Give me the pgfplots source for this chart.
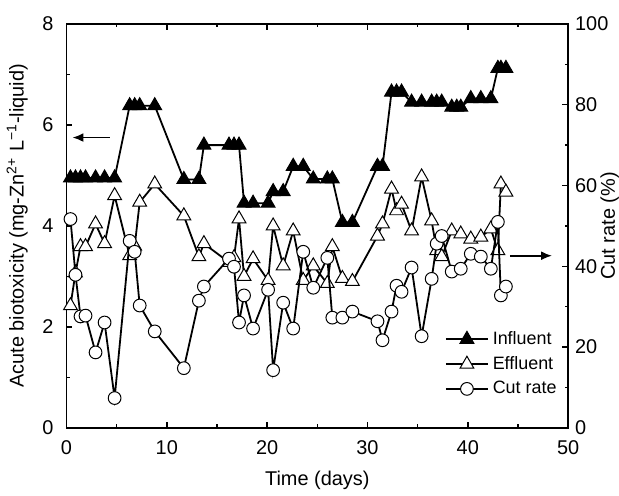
\documentclass[border=0pt]{standalone}
\usepackage{fontspec}
\setmainfont{Liberation Sans}
\usepackage{pgfplots}
\pgfplotsset{compat=1.18}
\usetikzlibrary{arrows.meta}

\pgfplotstableread{
x y
0.4 4.95
0.9 4.95
1.4 4.95
1.9 4.95
2.9 4.95
3.8 4.95
4.8 4.95
6.3 6.38
6.8 6.38
7.3 6.38
8.8 6.38
11.7 4.92
13.2 4.92
13.7 5.6
16.2 5.6
16.7 5.6
17.2 5.6
17.7 4.45
18.6 4.45
20.1 4.45
20.6 4.68
21.6 4.68
22.6 5.18
23.6 5.18
24.6 4.93
26.0 4.93
26.5 4.93
27.5 4.07
28.5 4.07
31.0 5.18
31.5 5.18
32.4 6.65
32.9 6.65
33.4 6.65
34.4 6.45
35.4 6.45
36.4 6.45
36.9 6.45
37.4 6.45
38.4 6.35
38.9 6.35
39.3 6.35
40.3 6.52
41.3 6.52
42.3 6.52
43.0 7.12
43.3 7.12
43.8 7.12
}\influent

\pgfplotstableread{
x y
0.4 2.42
0.9 3.07
1.4 3.59
1.9 3.59
2.9 4.04
3.8 3.65
4.8 4.60
6.3 3.41
6.8 3.60
7.3 4.47
8.8 4.83
11.7 4.20
13.2 3.39
13.7 3.65
16.2 3.28
16.7 3.37
17.2 4.14
17.7 3.00
18.6 3.35
20.1 2.92
20.6 4.00
21.6 3.21
22.6 3.90
23.6 2.92
24.6 3.21
26.0 2.86
26.5 3.59
27.5 2.96
28.5 2.90
31.0 3.80
31.5 4.04
32.4 4.73
32.9 4.30
33.4 4.43
34.4 3.90
35.4 4.97
36.4 4.10
36.9 3.51
37.4 3.39
38.4 3.90
39.3 3.84
40.3 3.74
41.3 3.78
42.3 3.94
43.0 3.51
43.3 4.83
43.8 4.67
}\effluent

\pgfplotstableread{
x y
0.4 51.7
0.9 37.9
1.4 27.6
1.9 27.8
2.9 18.7
3.8 26.1
4.8 7.4
6.3 46.3
6.8 43.6
7.3 30.3
8.8 23.9
11.7 14.8
13.2 31.5
13.7 35.0
16.2 41.9
16.7 39.9
17.2 26.1
17.7 32.8
18.6 24.6
20.1 34.2
20.6 14.3
21.6 31.0
22.6 24.6
23.6 43.6
24.6 34.7
26.0 42.1
26.5 27.3
27.5 27.3
28.5 28.8
31.0 26.4
31.5 21.7
32.4 28.8
32.9 35.2
33.4 33.7
34.4 39.7
35.4 22.7
36.4 36.9
36.9 45.6
37.4 47.5
38.4 38.7
39.3 39.4
40.3 43.1
41.3 42.4
42.3 39.4
43.0 51.0
43.3 32.8
43.8 35.0
}\cutrate

\begin{document}
\fontsize{10}{12}\selectfont
\begin{tikzpicture}
\pgfplotsset{
  every axis/.append style={
    width=252pt, height=203pt, scale only axis,
    xmin=0, xmax=50,
    tick align=inside,
    major tick length=3pt, minor tick length=1.8pt,
    /pgf/number format/assume math mode=true,
    tick label style={font=\fontsize{10}{12}\selectfont},
    label style={font=\fontsize{10}{12}\selectfont},
    axis line style={line width=0.75pt},
    every tick/.style={black, line width=0.75pt},
  },
  infl/.style={black, line width=0.9pt, mark=triangle*, mark size=4pt,
    mark options={solid, fill=black, line width=0.5pt}},
  effl/.style={black, line width=0.9pt, mark=triangle*, mark size=4pt,
    mark options={solid, fill=white, line width=0.5pt}},
  cutr/.style={black, line width=0.9pt, mark=*, mark size=3.2pt,
    mark options={solid, fill=white, line width=0.5pt}},
}
\begin{axis}[
  name=main,
  ymin=0, ymax=8,
  xtick={0,10,...,50}, minor xtick={5,15,...,45},
  ytick={0,2,...,8}, minor ytick={1,3,5,7},
  xtick pos=both, ytick pos=left,
  xticklabel style={yshift=-3pt},
  yticklabel style={xshift=-3pt},
  xlabel={Time (days)},
  ylabel={Acute biotoxicity (mg-Zn\textsuperscript{2+} L\textsuperscript{−1}-liquid)},
  xlabel style={yshift=-1pt},
  ylabel style={yshift=0.5pt},
]
\addplot[infl] table {\influent};
\addplot[effl] table {\effluent};
\draw[line width=0.9pt, -{Latex[length=5.5pt,width=4.5pt]}] (axis cs:4.3,5.75) -- (axis cs:0.6,5.75);
\draw[line width=0.9pt, -{Latex[length=5.5pt,width=4.5pt]}] (axis cs:44.2,3.41) -- (axis cs:48.4,3.41);
\end{axis}
\begin{axis}[
  ymin=0, ymax=100,
  hide x axis,
  axis y line*=right,
  ytick={0,20,...,100}, minor ytick={10,30,...,90},
  ylabel={Cut rate (\%)},
  ylabel style={yshift=7.5pt, inner sep=0pt},
  legend style={draw=none, fill=none, at={(0.75,0.255)}, anchor=north west,
    font=\fontsize{9}{11}\selectfont, row sep=0.5pt, inner sep=1pt},
  legend cell align=left,
  legend image code/.code={
    \draw[mark repeat=2,mark phase=2] plot coordinates {(0cm,0cm) (0.37cm,0cm) (0.74cm,0cm)};
  },
]
\addlegendimage{infl}
\addlegendentry{Influent}
\addlegendimage{effl}
\addlegendentry{Effluent}
\addplot[cutr] table {\cutrate};
\addlegendentry{Cut rate}
\end{axis}
\path ([yshift=12pt]main.north);
\end{tikzpicture}
\end{document}
